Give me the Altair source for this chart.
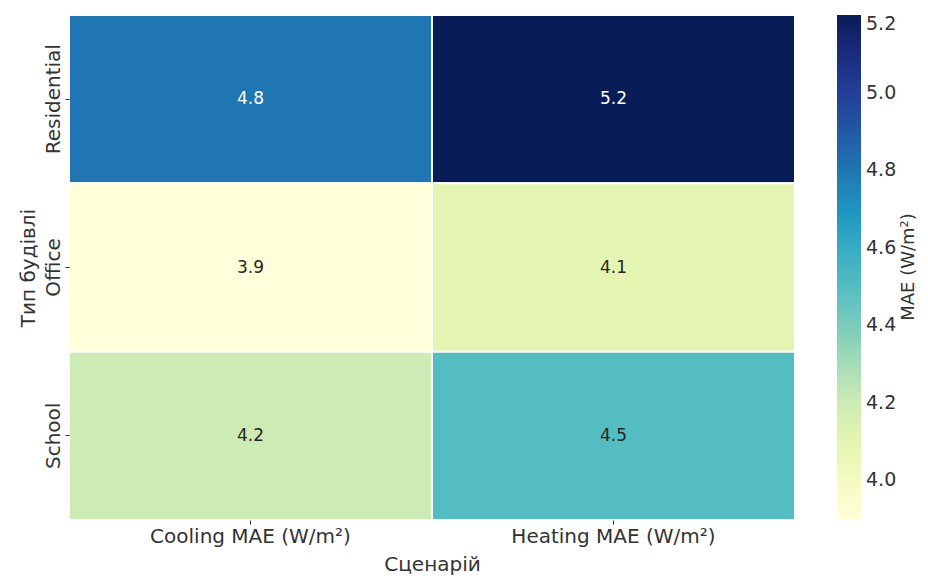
import altair as alt
import pandas as pd

buildings = ["Residential", "Office", "School"]
scenarios = ["Cooling MAE (W/m²)", "Heating MAE (W/m²)"]
cooling_mae = [4.8, 3.9, 4.2]
heating_mae = [5.2, 4.1, 4.5]
colorbar_ticks = [4.0, 4.2, 4.4, 4.6, 4.8, 5.0, 5.2]
colorbar_title = "MAE (W/m²)"
ylgnbu = ["#ffffd9", "#edf8b1", "#c7e9b4", "#7fcdbb", "#41b6c4",
          "#1d91c0", "#225ea8", "#253494", "#081d58"]

rows = []
for b, c, h in zip(buildings, cooling_mae, heating_mae):
    rows.append({"building": b, "scenario": scenarios[0], "mae": c})
    rows.append({"building": b, "scenario": scenarios[1], "mae": h})
df = pd.DataFrame(rows)

vmin, vmax = min(cooling_mae + heating_mae), max(cooling_mae + heating_mae)
dom = [vmin + (vmax - vmin) * i / (len(ylgnbu) - 1) for i in range(len(ylgnbu))]

FONT = "DejaVu Sans"
W, H = 726, 505
TXT = "#333333"

x = alt.X("scenario:N", sort=scenarios, title="Сценарій",
          scale=alt.Scale(paddingInner=0, paddingOuter=0),
          axis=alt.Axis(labelAngle=0, labelFontSize=20, labelFont=FONT,
                        labelColor=TXT, labelLimit=0, titleFontSize=20, titleFont=FONT,
                        titleFontWeight="normal", titleColor=TXT,
                        domain=False, tickSize=4, tickColor=TXT,
                        labelPadding=2, titleX=W / 2, titleY=50,
                        titleAlign="center", titleBaseline="alphabetic"))
y = alt.Y("building:N", sort=buildings, title="Тип будівлі",
          scale=alt.Scale(paddingInner=0, paddingOuter=0),
          axis=alt.Axis(labelAngle=270, labelAlign="center", labelBaseline="alphabetic",
                        labelFontSize=20, labelFont=FONT, labelColor=TXT, labelLimit=0,
                        titleFontSize=20, titleFont=FONT, titleFontWeight="normal",
                        titleColor=TXT, domain=False, tickSize=4,
                        tickColor=TXT, labelPadding=6,
                        titleX=-35, titleY=H / 2, titleAngle=270,
                        titleAlign="center", titleBaseline="alphabetic"))

color = alt.Color("mae:Q", title=None,
                  scale=alt.Scale(domain=dom, range=ylgnbu, interpolate="rgb"),
                  legend=alt.Legend(orient="none", legendX=768, legendY=0,
                                    direction="vertical",
                                    gradientLength=504, gradientThickness=24,
                                    gradientStrokeWidth=0,
                                    values=colorbar_ticks, format=".1f",
                                    labelFontSize=19, labelFont=FONT,
                                    labelColor=TXT, labelOffset=5))

base = alt.Chart(df).encode(x=x, y=y)
rects = base.mark_rect(stroke="white", strokeWidth=2).encode(color=color)
texts = base.mark_text(fontSize=17, font=FONT).encode(
    text=alt.Text("mae:Q", format=".1f"),
    color=alt.condition(alt.datum.mae > 4.65, alt.value("white"), alt.value("#262626")),
)
cbar_title = alt.Chart(pd.DataFrame({"t": [colorbar_title]})).mark_text(
    angle=270, fontSize=18, font=FONT, color=TXT, align="center", baseline="middle"
).encode(text="t:N", x=alt.value(840), y=alt.value(252))

chart = (rects + texts + cbar_title).properties(
    width=W, height=H,
    autosize=alt.AutoSizeParams(type="none"),
    padding={"left": 61, "top": 7, "right": 125, "bottom": 56},
).configure_view(stroke=None)

chart.save("out.html", embed_options={"renderer": "svg", "actions": False})
